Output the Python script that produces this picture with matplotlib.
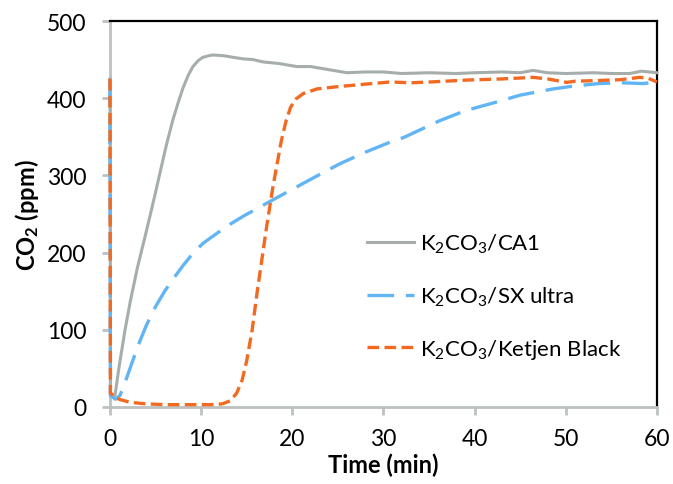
import numpy as np
import matplotlib
matplotlib.use('Agg')
import matplotlib.pyplot as plt

plt.rcParams['font.family'] = ['Lato', 'DejaVu Sans']
plt.rcParams['mathtext.default'] = 'regular'

# K2CO3/CA1
t_ca1 = [0, 0.05, 0.55, 1.0, 1.64, 2.2, 3.0, 4.0, 4.8, 5.5, 6.2, 6.9, 7.5,
         8.0, 8.6, 9.1, 9.7, 10.2, 10.8, 11.3, 12.5, 13.5, 14.6, 15.7, 16.8,
         18.5, 20.5, 22.0, 24.0, 26.0, 28.0, 30.0, 32.0, 35.0, 38.0,
         40.0, 43.0, 45.0, 46.4, 48.0, 50.0, 53.0, 55.0, 57.0, 58.3, 60.0]
y_ca1 = [425, 15, 15, 52, 99, 135, 180, 228, 268, 304, 340, 372, 395,
         413, 430, 441, 449, 453, 455, 456, 455, 453, 451, 450, 447,
         445, 441, 441, 437, 433, 434, 434, 432, 433, 432,
         433, 434, 433, 436, 433, 432, 433, 432, 432, 435, 433]

# K2CO3/SX ultra
t_sx = [0, 0.05, 0.6, 1.1, 1.6, 2.2, 3.1, 4.0, 5.0, 6.0, 7.0, 8.0, 9.1,
        10.2, 11.5, 12.8, 14.6, 17.2, 20.0, 22.5, 25.2, 28.0, 30.7, 32.2,
        35.1, 36.2, 39.0, 42.4, 45.0, 48.6, 51.0, 53.7, 56.0, 58.5, 60.0]
y_sx = [425, 15, 10, 15, 30, 50, 80, 106, 130, 150, 167, 183, 199,
        212, 223, 234, 247, 264, 282, 298, 315, 330, 343, 349,
        365, 371, 384, 395, 404, 412, 416, 419, 420, 419, 421]

# K2CO3/Ketjen Black
t_kb = [0, 0.05, 0.5, 1.0, 2.2, 4.0, 6.2, 11.0, 12.3, 13.2, 13.9, 14.5, 15.0,
        15.6, 16.1, 17.2, 17.9, 18.8, 19.3, 19.8, 20.4, 21.2, 22.7, 25.0,
        27.8, 30.7, 33.0, 35.1, 39.1, 43.0, 46.4, 48.0, 50.1, 51.0, 53.7,
        56.0, 58.1, 59.0, 60.0]
y_kb = [425, 18, 14, 10, 6, 4, 3, 3, 4, 8, 18, 35, 60,
        100, 145, 235, 287, 345, 370, 388, 399, 406, 412, 415,
        418, 421, 420, 421, 423.5, 425, 427, 425, 420.5, 422, 423,
        424, 427, 426, 421]

labels = ['K$_2$CO$_3$/CA1', 'K$_2$CO$_3$/SX ultra', 'K$_2$CO$_3$/Ketjen Black']
c_gray = '#a6aeab'
c_blue = '#62b5f4'
c_orange = '#f26a22'
c_spine = '#bcc2c0'

fig = plt.figure(figsize=(6.73, 4.85), dpi=100)
ax = fig.add_axes([0.1634, 0.1588, 0.8128, 0.7958])

ax.plot(t_ca1, y_ca1, color=c_gray, lw=2.2, label=labels[0],
        clip_on=False, zorder=3)
ax.plot(t_sx, y_sx, color=c_blue, lw=2.4, dashes=(8, 3.5), label=labels[1],
        clip_on=False, zorder=3)
ax.plot(t_kb, y_kb, color=c_orange, lw=2.4, dashes=(3.5, 1.6), label=labels[2],
        clip_on=False, zorder=3)

ax.set_xlim(0, 60)
ax.set_ylim(0, 500)
ax.set_xticks(np.arange(0, 61, 10))
ax.set_yticks(np.arange(0, 501, 100))

for s in ['left', 'bottom']:
    ax.spines[s].set_color(c_spine)
    ax.spines[s].set_linewidth(2.0)
for s in ['top', 'right']:
    ax.spines[s].set_color('black')
    ax.spines[s].set_linewidth(1.6)

ax.tick_params(direction='out', length=6, width=2.0, color=c_spine,
               labelsize=16.5, labelcolor='black', pad=11)
ax.tick_params(axis='x', pad=9)

ax.set_xlabel('Time (min)', fontsize=17, fontweight='bold', labelpad=3)
ax.set_ylabel('CO$_2$ (ppm)', fontsize=17, fontweight='bold', labelpad=4)

ax.legend(loc='center left', bbox_to_anchor=(0.47, 0.286), frameon=False,
          fontsize=16, handlelength=2.1, handletextpad=0.3, labelspacing=1.31,
          borderpad=0, borderaxespad=0)

fig.savefig('out.png', dpi=100)
